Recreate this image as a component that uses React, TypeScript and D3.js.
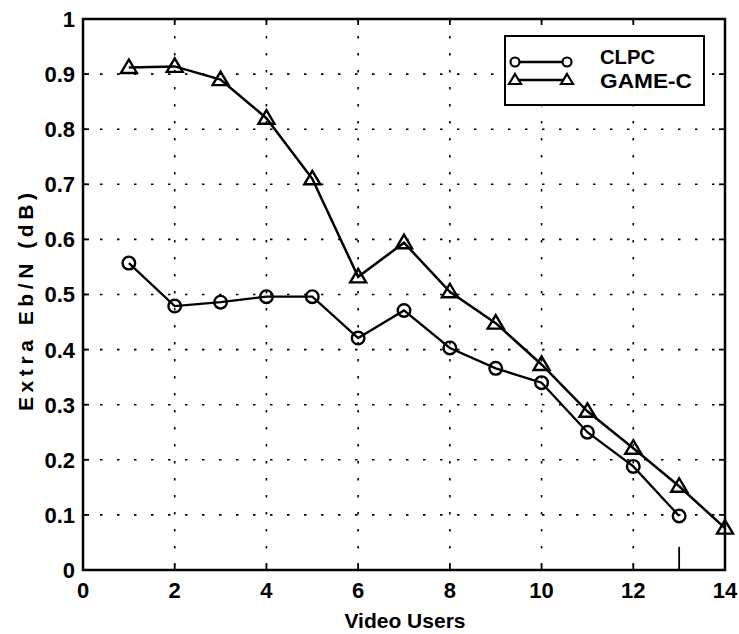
import React from "react";
import * as d3 from "d3";

// Number of video users (x) and extra Eb/N in dB for each scheme
const users = [1, 2, 3, 4, 5, 6, 7, 8, 9, 10, 11, 12, 13, 14];
const clpc = [0.557, 0.479, 0.486, 0.496, 0.496, 0.421, 0.471, 0.403, 0.366, 0.34, 0.25, 0.188, 0.098];
const gameC = [0.912, 0.914, 0.89, 0.82, 0.71, 0.532, 0.594, 0.505, 0.448, 0.373, 0.288, 0.221, 0.152, 0.076];
const xTicks = [0, 2, 4, 6, 8, 10, 12, 14];
const yTicks = [0, 0.1, 0.2, 0.3, 0.4, 0.5, 0.6, 0.7, 0.8, 0.9, 1];
const seriesNames = ["CLPC", "GAME-C"];

const W = 739;
const H = 634;
const left = 83;
const right = 725;
const top = 19;
const bottom = 570;

const FONT = "'Liberation Sans', Arial, Helvetica, sans-serif";

export default function App() {
  const x = d3.scaleLinear().domain([0, 14]).range([left, right]);
  const y = d3.scaleLinear().domain([0, 1]).range([bottom, top]);

  const line = d3
    .line<number>()
    .x((_, i) => x(users[i]))
    .y((d) => y(d));

  const tri = "M0,-8L8,5.5L-8,5.5Z";

  return (
    <svg
      width={W}
      height={H}
      style={{ position: "absolute", left: 0, top: 0, background: "#fff" }}
      fontFamily={FONT}
    >
      <rect x={0} y={0} width={W} height={H} fill="#fff" />

      {/* dotted grid */}
      <g stroke="#000" strokeWidth={1.6} strokeDasharray="2.5 14.5">
        {xTicks.slice(1, -1).map((t) => (
          <line key={"gx" + t} x1={x(t)} x2={x(t)} y1={y(1)} y2={y(0)} />
        ))}
        {yTicks.slice(1, -1).map((t) => (
          <line key={"gy" + t} x1={x(0)} x2={x(14)} y1={y(t)} y2={y(t)} />
        ))}
      </g>

      {/* inward ticks on all four sides */}
      <g stroke="#000" strokeWidth={1.8}>
        {xTicks.map((t) => (
          <g key={"tx" + t}>
            <line x1={x(t)} x2={x(t)} y1={y(0)} y2={y(0) - 6} />
            <line x1={x(t)} x2={x(t)} y1={y(1)} y2={y(1) + 6} />
          </g>
        ))}
        {yTicks.map((t) => (
          <g key={"ty" + t}>
            <line x1={x(0)} x2={x(0) + 6} y1={y(t)} y2={y(t)} />
            <line x1={x(14)} x2={x(14) - 6} y1={y(t)} y2={y(t)} />
          </g>
        ))}
        {/* short stem at 13 users */}
        <line x1={x(13)} x2={x(13)} y1={y(0)} y2={y(0.042)} />
      </g>

      {/* axes box */}
      <rect
        x={x(0)}
        y={y(1)}
        width={x(14) - x(0)}
        height={y(0) - y(1)}
        fill="none"
        stroke="#000"
        strokeWidth={2.5}
      />

      {/* tick labels */}
      <g fontSize={22} fontWeight="bold" fill="#000">
        {yTicks.map((t) => (
          <text key={"ly" + t} x={x(0) - 8} y={y(t)} dy="0.36em" textAnchor="end">
            {t === 0 || t === 1 ? String(t) : t.toFixed(1)}
          </text>
        ))}
        {xTicks.map((t) => (
          <text key={"lx" + t} x={x(t)} y={598} textAnchor="middle">
            {t}
          </text>
        ))}
      </g>

      {/* axis titles */}
      <text
        x={405}
        y={628}
        textAnchor="middle"
        fontSize={21}
        fontWeight="bold"
        fill="#000"
      >
        Video Users
      </text>
      <text
        transform={`translate(33,${302}) rotate(-90)`}
        textAnchor="middle"
        fontSize={21}
        fontWeight="bold"
        fill="#000"
        textLength={218}
        lengthAdjust="spacing"
      >
        Extra Eb/N (dB)
      </text>

      {/* series lines */}
      <path d={line(clpc) || ""} fill="none" stroke="#000" strokeWidth={2.3} />
      <path d={line(gameC) || ""} fill="none" stroke="#000" strokeWidth={2.5} />

      {/* markers */}
      <g fill="none" stroke="#000" strokeWidth={2.4}>
        {clpc.map((v, i) => (
          <circle key={"c" + i} cx={x(users[i])} cy={y(v)} r={6.3} />
        ))}
        {gameC.map((v, i) => (
          <path key={"t" + i} d={tri} transform={`translate(${x(users[i])},${y(v)})`} />
        ))}
      </g>

      {/* legend */}
      <g>
        <rect x={505} y={36} width={199} height={69} fill="#fff" stroke="#000" strokeWidth={2} />
        {seriesNames.map((name, i) => {
          const ly = 62 + i * 18;
          const ty = i === 0 ? 57 : 81;
          return (
            <g key={name}>
              <line x1={515} x2={567} y1={ly} y2={ly} stroke="#000" strokeWidth={2.3} />
              {i === 0 ? (
                <g fill="#fff" stroke="#000" strokeWidth={2.2}>
                  <circle cx={515} cy={ly} r={4.5} />
                  <circle cx={567} cy={ly} r={4.5} />
                </g>
              ) : (
                <g fill="#fff" stroke="#000" strokeWidth={2.2}>
                  <path d="M0,-6L6,4L-6,4Z" transform={`translate(515,${ly})`} />
                  <path d="M0,-6L6,4L-6,4Z" transform={`translate(567,${ly})`} />
                </g>
              )}
              <text x={600} y={ty} dy="0.36em" fontSize={20} fontWeight="bold" fill="#000" textLength={i === 0 ? 55 : 92} lengthAdjust="spacingAndGlyphs">
                {name}
              </text>
            </g>
          );
        })}
      </g>
    </svg>
  );
}
